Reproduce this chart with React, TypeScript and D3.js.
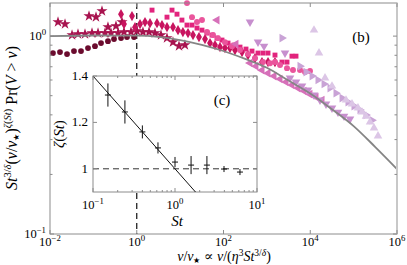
import * as d3 from 'd3';

// panel (b): one series per Stokes number, [v/v*, scaled Pr]
const darkCircles = [
  [0.0117, 0.821], [0.017, 0.83], [0.0247, 0.811], [0.0357, 0.84], [0.0519, 0.84], [0.0752, 0.87],
  [0.109, 0.89], [0.15, 0.922], [0.217, 0.943], [0.299, 0.966], [0.434, 0.977], [0.596, 0.989], [0.864, 0.989],
];
const stars = [
  [0.0153, 1.177], [0.0222, 1.15], [0.0793, 1.262], [0.115, 1.247], [0.158, 1.337], [0.217, 1.11],
  [0.332, 1.123], [0.457, 1.177], [0.0322, 1.012], [0.0442, 1.024], [0.0641, 1.024], [0.093, 1.036],
  [0.128, 1.036], [0.185, 1.036], [0.255, 1.036], [0.37, 1.036], [0.508, 1.048], [0.737, 1.048],
  [1.01, 1.06], [1.39, 1.048], [1.92, 1.048], [2.63, 1.036], [3.62, 1.012], [4.98, 0.977],
  [6.85, 0.932], [9.42, 0.89], [12.9, 0.901],
];
const diamonds = [
  [0.434, 1.291], [0.777, 1.262], [0.508, 1.15], [0.912, 1.11], [1.19, 1.15], [1.55, 1.177],
  [2.02, 1.163], [2.93, 1.163], [3.82, 1.137], [4.98, 1.11], [6.85, 1.11], [8.94, 1.072],
  [11.6, 1.048], [15.2, 1.036], [19.8, 1.012], [27.2, 0.989], [37.5, 0.966], [48.9, 0.922],
  [63.7, 0.901], [83, 0.88], [108, 0.87], [141, 0.87], [184, 0.85], [267, 0.83], [367, 0.802],
  [532, 0.774], [771, 0.739], [1062, 0.739], [1538, 0.739],
];
const squares = [
  [2.25, 1.353], [4.98, 1.247], [6.5, 1.353], [8.47, 1.291], [11, 1.205], [14.4, 1.137],
  [18.8, 1.137], [24.5, 1.098], [31.9, 1.072], [41.7, 1.036], [54.3, 1.012], [70.8, 0.977],
  [92.3, 0.955], [127, 0.922], [175, 0.901], [240, 0.88], [330, 0.86], [454, 0.84], [625, 0.821],
  [815, 0.821], [1062, 0.821], [1538, 0.802], [2230, 0.739], [2910, 0.739], [3790, 0.792], [4690, 0.792],
];
const pinkCircles = [
  [14.4, 1.468], [18.8, 1.247], [24.5, 1.177], [31.9, 1.205], [41.7, 1.048], [57.3, 1.012],
  [74.6, 0.977], [108, 0.932], [157, 0.89], [240, 0.85], [367, 0.811], [532, 0.774], [815, 0.739],
  [1180, 0.73], [1538, 0.739], [2010, 0.714], [2910, 0.689], [4000, 0.674], [5800, 0.674],
  [7570, 0.658], [9860, 0.666],
];
const leftTriangles = [
  [70.8, 1.205], [194, 0.911], [408, 0.731], [561, 0.705], [772, 0.673], [1062, 0.65], [1460, 0.628],
  [2010, 0.607], [2760, 0.586], [3790, 0.566], [5220, 0.546], [7180, 0.528], [9860, 0.509],
  [13600, 0.492], [18700, 0.475],
];
const downTriangles = [
  [408, 1.177], [625, 0.933], [859, 0.89], [2620, 0.821], [3410, 0.614], [4690, 0.586], [6450, 0.559],
  [8870, 0.534], [12200, 0.504], [16800, 0.475], [23100, 0.454], [31700, 0.433], [43600, 0.413],
  [60000, 0.394], [82400, 0.381],
];
const rightTriangles = [
  [2230, 0.977], [5800, 0.705], [7980, 0.658], [11000, 0.628], [15100, 0.6], [20800, 0.573],
  [28500, 0.546], [39200, 0.515], [54000, 0.486], [74200, 0.464], [102000, 0.443], [140000, 0.423],
  [193000, 0.399], [265000, 0.376],
];
const upTriangles = [
  [12200, 1.072], [15900, 0.821], [21900, 0.614], [31700, 0.559], [66700, 0.475], [91800, 0.454],
  [126000, 0.433], [156000, 0.413], [193000, 0.394], [239000, 0.368], [295000, 0.343], [365000, 0.313],
];

// grey master curve
const curveV = [0.01, 0.1, 1, 3.16, 10, 31.6, 100, 316, 1000, 3162, 1e4, 3.16e4, 1e5, 3.16e5, 1e6];
const curveP = [1, 1.007, 1.005, 0.991, 0.955, 0.904, 0.841, 0.767, 0.692, 0.596, 0.513, 0.427, 0.351, 0.275, 0.213];

// panel (c): exponent zeta vs St
const stokes = [0.152, 0.245, 0.4, 0.62, 1.0, 1.57, 2.45, 3.96, 6.2];
const zeta = [1.318, 1.245, 1.159, 1.09, 1.029, 1.016, 1.016, 0.999, 0.986];
const zetaErr = [0.05, 0.05, 0.028, 0.024, 0.022, 0.039, 0.039, 0.013, 0.013];
const zetaFitSt = [0.1, 10];
const zetaFitZ = [1.4, 0.6];

const xTicks = [1e-2, 1, 1e2, 1e4, 1e6];
const xTickExp = ['−2', '0', '2', '4', '6'];
const yTicks = [0.1, 1];
const yTickExp = ['−1', '0'];
const yMinor = [0.2, 0.3, 0.4, 0.5, 0.6, 0.7, 0.8, 0.9];
const insetXTicks = [0.1, 1, 10];
const insetXExp = ['−1', '0', '1'];
const insetYTicks = [1, 1.2, 1.4];

const series = [
  { data: darkCircles, type: d3.symbolCircle, size: 26, rot: 0, color: '#6b0b2e' },
  { data: stars, type: d3.symbolStar, size: 38, rot: 0, color: '#a8134f' },
  { data: diamonds, type: d3.symbolDiamond, size: 30, rot: 0, color: '#c8145f' },
  { data: squares, type: d3.symbolSquare, size: 24, rot: 0, color: '#e2247d' },
  { data: pinkCircles, type: d3.symbolCircle, size: 28, rot: 0, color: '#ea559c' },
  { data: leftTriangles, type: d3.symbolTriangle, size: 32, rot: -90, color: '#d670b9' },
  { data: downTriangles, type: d3.symbolTriangle, size: 32, rot: 180, color: '#c78fce' },
  { data: rightTriangles, type: d3.symbolTriangle, size: 32, rot: 90, color: '#c9a3d6' },
  { data: upTriangles, type: d3.symbolTriangle, size: 32, rot: 0, color: '#dcc6e6' },
];

const serif = "'Liberation Serif', 'DejaVu Serif', serif";
const axisColor = '#8c8c8c';

function Pow({ x, y, exp, anchor, size = 12.5 }: any) {
  return (
    <text x={x} y={y} textAnchor={anchor} style={{ fontSize: size }}>
      10<tspan dy={-5} style={{ fontSize: size * 0.7 }}>{exp}</tspan>
    </text>
  );
}

function App() {
  const x = d3.scaleLog().domain([1e-2, 1e6]).range([50, 397]);
  const y = d3.scaleLog().domain([0.1, 1.47]).range([234, 3]);
  const ix = d3.scaleLog().domain([0.1, 10]).range([93, 257]);
  const iy = d3.scaleLinear().domain([0.9, 1.4]).range([192, 76]);

  const curve = d3.line<number>()
    .x((_, i) => x(curveV[i]))
    .y((d) => y(d))
    .curve(d3.curveMonotoneX);

  const insetMinor: number[] = [];
  [0.1, 1].forEach((dec) => {
    for (let k = 2; k <= 9; k++) insetMinor.push(dec * k);
  });

  const [L, R, T, B] = [50, 397, 3, 234];
  const [iL, iR, iT, iB] = [93, 257, 76, 192];
  const sup = { fontSize: 10.5 };
  const supX = { fontSize: 9.5 };
  const star = { fontSize: 8 };

  return (
    <svg width={407} height={265} style={{ position: 'absolute', left: 0, top: 0, background: '#fff', fontFamily: serif }}>
      <defs>
        <clipPath id="insetClip">
          <rect x={iL} y={iT} width={iR - iL} height={iB - iT} />
        </clipPath>
      </defs>

      {/* dashed v = v* line */}
      <line x1={x(1)} x2={x(1)} y1={T} y2={B} stroke="#111" strokeWidth={1.2} strokeDasharray="6,4" />

      {series.map((s, si) => (
        <g key={si} fill={s.color}>
          {s.data.map((d, i) => (
            <path
              key={i}
              d={d3.symbol().type(s.type).size(s.size)() as string}
              transform={`translate(${x(d[0])},${y(d[1])}) rotate(${s.rot})`}
            />
          ))}
        </g>
      ))}

      <path d={curve(curveP) as string} fill="none" stroke="#858585" strokeWidth={1.8} />

      {/* main frame and ticks */}
      <rect x={L} y={T} width={R - L} height={B - T} fill="none" stroke={axisColor} strokeWidth={1} />
      <line x1={R} x2={R} y1={T} y2={B} stroke="#c8c8c8" strokeWidth={2} />
      {xTicks.map((t, i) => (
        <g key={i}>
          <line x1={x(t)} x2={x(t)} y1={B} y2={B - 4} stroke={axisColor} />
          <line x1={x(t)} x2={x(t)} y1={T} y2={T + 4} stroke={axisColor} />
          <Pow x={x(t)} y={246} exp={xTickExp[i]} anchor="middle" />
        </g>
      ))}
      {yTicks.map((t, i) => (
        <g key={i}>
          <line x1={L} x2={L + 4} y1={y(t)} y2={y(t)} stroke={axisColor} />
          <line x1={R} x2={R - 4} y1={y(t)} y2={y(t)} stroke={axisColor} />
          <Pow x={46} y={y(t) + 4} exp={yTickExp[i]} anchor="end" />
        </g>
      ))}
      {yMinor.map((t, i) => (
        <g key={i}>
          <line x1={L} x2={L + 2.5} y1={y(t)} y2={y(t)} stroke={axisColor} />
          <line x1={R} x2={R - 2.5} y1={y(t)} y2={y(t)} stroke={axisColor} />
        </g>
      ))}

      <text x={361} y={42} style={{ fontSize: 15 }} textAnchor="middle">(b)</text>

      {/* axis labels */}
      <text x={224} y={261} style={{ fontSize: 14 }} textAnchor="middle">
        <tspan fontStyle="italic">v</tspan>/<tspan fontStyle="italic">v</tspan>
        <tspan dy={2} style={star}>★</tspan>
        <tspan dy={-2}> ∝ </tspan>
        <tspan fontStyle="italic">v</tspan>/(<tspan fontStyle="italic">η</tspan>
        <tspan dy={-5} style={supX}>3</tspan>
        <tspan dy={5} fontStyle="italic">St</tspan>
        <tspan dy={-5} style={supX}>3/</tspan>
        <tspan style={supX} fontStyle="italic">δ</tspan>
        <tspan dy={5}>)</tspan>
      </text>
      <text transform="translate(17,118) rotate(-90)" style={{ fontSize: 16 }} textAnchor="middle">
        <tspan fontStyle="italic">St</tspan>
        <tspan dy={-6} style={sup}>3/</tspan>
        <tspan style={sup} fontStyle="italic">δ</tspan>
        <tspan dy={6}>(</tspan>
        <tspan fontStyle="italic">v</tspan>/<tspan fontStyle="italic">v</tspan>
        <tspan dy={2} style={star}>★</tspan>
        <tspan dy={-2}>)</tspan>
        <tspan dy={-6} style={sup} fontStyle="italic">ζ</tspan>
        <tspan style={sup}>(</tspan>
        <tspan style={sup} fontStyle="italic">St</tspan>
        <tspan style={sup}>)</tspan>
        <tspan dy={6}> Pr(</tspan>
        <tspan fontStyle="italic">V</tspan>
        <tspan> &gt; </tspan>
        <tspan fontStyle="italic">v</tspan>)
      </text>

      {/* inset (c) */}
      <rect x={iL} y={iT} width={iR - iL} height={iB - iT} fill="#fff" stroke={axisColor} strokeWidth={1} />
      <line x1={iL} x2={iR} y1={iy(1)} y2={iy(1)} stroke="#333" strokeWidth={1} strokeDasharray="6,4" />
      <line
        clipPath="url(#insetClip)"
        x1={ix(zetaFitSt[0])} y1={iy(zetaFitZ[0])}
        x2={ix(zetaFitSt[1])} y2={iy(zetaFitZ[1])}
        stroke="#111" strokeWidth={1}
      />
      {stokes.map((s, i) => (
        <g key={i} stroke="#111" strokeWidth={1}>
          <line x1={ix(s)} x2={ix(s)} y1={iy(zeta[i] - zetaErr[i])} y2={iy(zeta[i] + zetaErr[i])} />
          <line x1={ix(s) - 3} x2={ix(s) + 3} y1={iy(zeta[i])} y2={iy(zeta[i])} />
        </g>
      ))}
      {insetXTicks.map((t, i) => (
        <g key={i}>
          <line x1={ix(t)} x2={ix(t)} y1={iB} y2={iB - 4} stroke={axisColor} />
          <line x1={ix(t)} x2={ix(t)} y1={iT} y2={iT + 4} stroke={axisColor} />
          <Pow x={ix(t)} y={209} exp={insetXExp[i]} anchor="middle" />
        </g>
      ))}
      {insetMinor.map((t, i) => (
        <g key={i}>
          <line x1={ix(t)} x2={ix(t)} y1={iB} y2={iB - 2} stroke={axisColor} />
          <line x1={ix(t)} x2={ix(t)} y1={iT} y2={iT + 2} stroke={axisColor} />
        </g>
      ))}
      {insetYTicks.map((t, i) => (
        <g key={i}>
          <line x1={iL} x2={iL + 4} y1={iy(t)} y2={iy(t)} stroke={axisColor} />
          <line x1={iR} x2={iR - 4} y1={iy(t)} y2={iy(t)} stroke={axisColor} />
          <text x={iL - 5} y={iy(t) + 4} style={{ fontSize: 13 }} textAnchor="end">
            {t === 1 ? '1' : t.toFixed(1)}
          </text>
        </g>
      ))}
      <text x={222} y={105} style={{ fontSize: 15 }} textAnchor="middle">(c)</text>
      <text x={177} y={226} style={{ fontSize: 15 }} fontStyle="italic" textAnchor="middle">St</text>
      <text transform="translate(64,134) rotate(-90)" style={{ fontSize: 15 }} textAnchor="middle">
        <tspan fontStyle="italic">ζ</tspan>(<tspan fontStyle="italic">St</tspan>)
      </text>
    </svg>
  );
}

export default App;
